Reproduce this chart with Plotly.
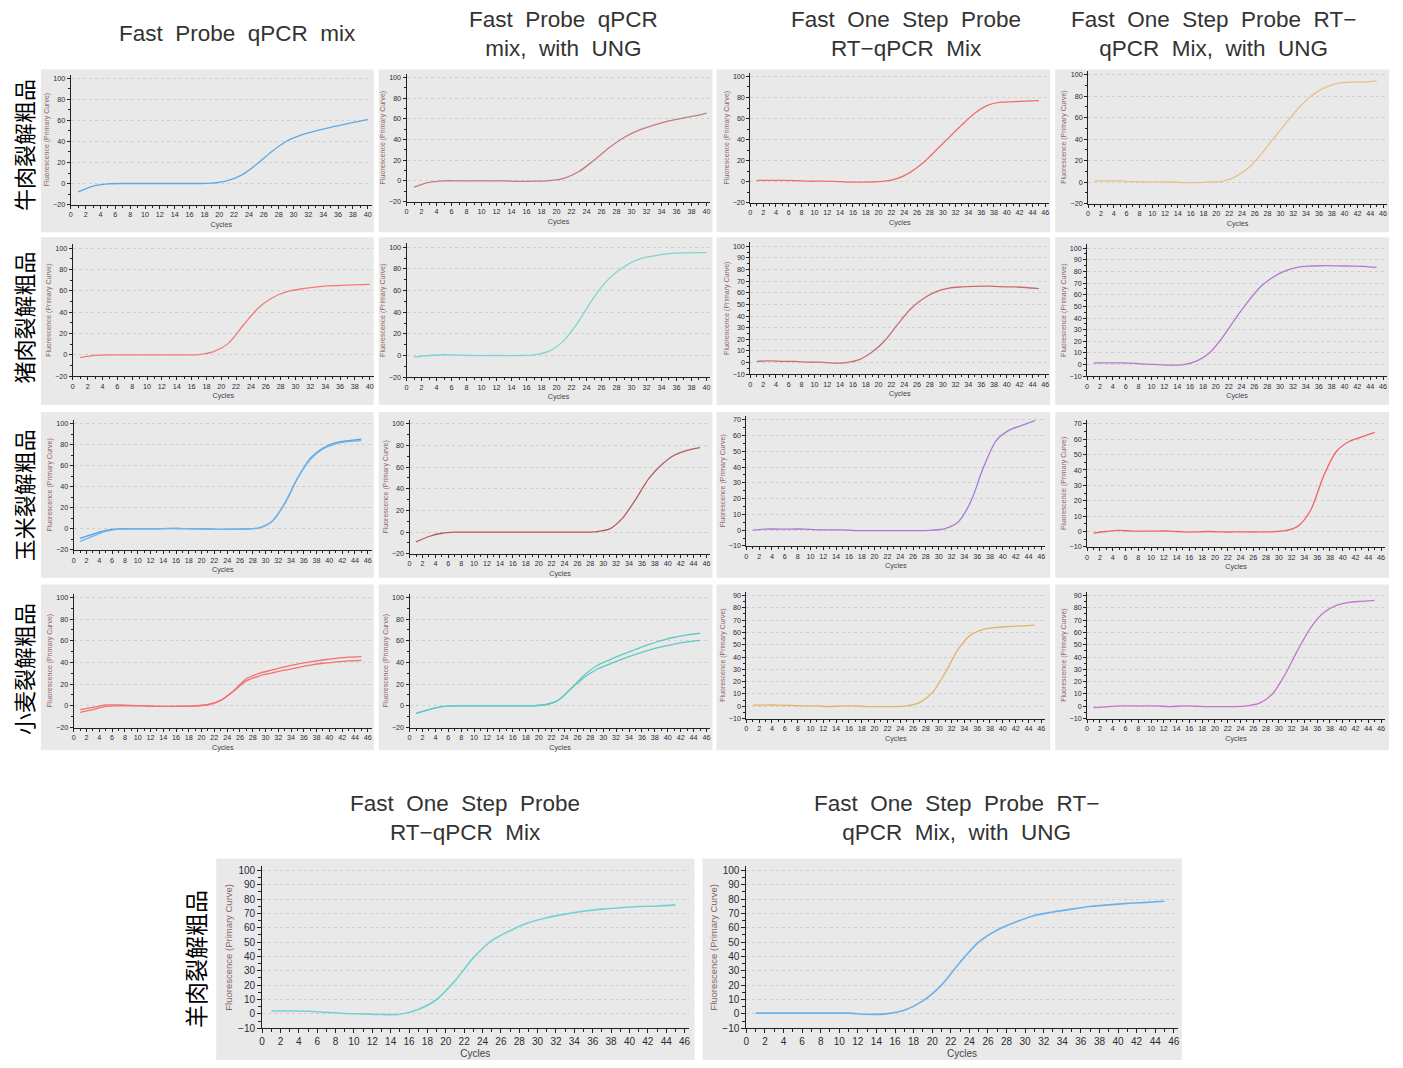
import plotly.graph_objects as go

# ---------------- data ----------------
cycles_40 = [1, 3, 5, 7, 9, 11, 13, 15, 17, 19, 21, 23, 25, 27, 29, 31, 33, 35, 37, 39, 40]
cycles_45 = [1, 3, 5, 7, 9, 11, 13, 15, 17, 19, 21, 23, 25, 27, 29, 31, 33, 35, 37, 39, 41, 43, 45]

col_titles = ["Fast  Probe  qPCR  mix",
              "Fast  Probe  qPCR<br>mix,  with  UNG",
              "Fast  One  Step  Probe<br>RT−qPCR  Mix",
              "Fast  One  Step  Probe  RT−<br>qPCR  Mix,  with  UNG"]
bottom_titles = ["Fast  One  Step  Probe<br>RT−qPCR  Mix",
                 "Fast  One  Step  Probe  RT−<br>qPCR  Mix,  with  UNG"]
row_labels = ["牛肉裂解粗品", "猪肉裂解粗品", "玉米裂解粗品", "小麦裂解粗品"]
bottom_row_label = "羊肉裂解粗品"

# beef
beef_probe = [-8, -2.5, -0.3, 0, 0, 0, 0, 0, 0, 0.3, 2.5, 8, 18, 30, 40, 46, 50, 53.5, 56.5, 59.5, 61]
beef_probe_ung = [-6, -1.5, 0, 0, 0, 0, 0, -0.5, -0.3, 0.3, 2.5, 9, 20, 32, 42, 49, 54, 58, 61, 63.5, 65.5]
beef_rt = [1, 1, 1, 0.8, 0.3, 0.3, 0.2, -0.5, -0.5, -0.3, 0.3, 3, 9, 18, 30, 42, 54, 65, 72.5, 75.5, 76, 76.5, 77]
beef_rt_ung = [1, 1, 1, 0.3, 0.2, 0.2, 0, -0.5, -0.5, 0, 0.5, 5, 13, 26, 41, 56, 70, 81, 88, 92, 93, 93, 94]
# pork
pork_probe = [-2.5, -0.5, 0, 0, 0, 0, 0, 0, 0.3, 3, 11, 28, 44, 54, 59.5, 62, 63.8, 64.8, 65.3, 65.8, 66]
pork_probe_ung = [-1.5, 0, 0.7, 0.3, 0, 0, 0, 0, 0.5, 4, 14, 32, 54, 71, 82, 89, 92, 94, 94.7, 95, 95]
pork_rt = [1, 1.5, 1, 1, 0.3, 0.3, -0.5, 0, 2.5, 9, 19, 33, 46, 55, 61, 64, 65, 65.5, 65.7, 65.2, 65, 64.5, 63.5]
pork_rt_ung = [1.5, 1.5, 1.5, 1.3, 0.3, 0, -0.5, 0, 3, 10, 23, 39, 54, 67, 75.5, 81, 84, 84.7, 85, 84.8, 84.6, 84.4, 83.5]
# corn
corn_probe_a = [-9, -5, -1.5, 0, 0, 0, 0, 0.5, 0.3, 0, 0, -0.5, -0.3, 0, 1, 7, 24, 48, 67, 77, 82, 84, 85.5]
corn_probe_b = [-12, -7, -2.5, -0.3, 0, 0, 0, 0.3, 0.3, 0, -0.3, -0.5, -0.5, 0, 1, 7, 24, 48, 66, 76, 81, 83, 84]
corn_probe_ung = [-9, -4, -1, 0, 0, 0, 0, 0, 0, 0, 0, 0, 0, 0, 0.5, 3, 13, 30, 49, 62, 71, 75.5, 78]
corn_rt = [0, 0.7, 0.7, 0.7, 0.7, 0.2, 0.2, 0.2, -0.3, -0.3, -0.3, -0.3, -0.3, -0.3, 0, 1, 5, 18, 40, 57, 63.5, 66.5, 69.5]
corn_rt_ung = [-1, 0, 0.7, 0.3, 0.3, 0.3, 0.3, -0.3, -0.3, 0, -0.3, -0.3, -0.3, -0.3, -0.2, 0.5, 3.5, 14, 36, 52, 58.5, 61.5, 64.5]
# wheat
wheat_probe_a = [-3.5, -1.5, 0.8, 0.8, 0.5, 0, -0.5, -0.5, -0.3, 0, 1, 5, 14, 25, 30, 33, 36, 38.5, 40.5, 42.3, 43.8, 45, 45.5]
wheat_probe_b = [-6, -3.5, -0.5, 0, 0, 0, -0.5, -0.5, -0.3, 0, 1, 5, 13.5, 23, 27.5, 30.3, 33, 35.3, 37.5, 39.3, 40.5, 41.5, 42]
wheat_probe_ung_a = [-7, -3.5, -0.8, 0, 0, 0, 0, 0, 0, 0, 1, 5, 16, 28, 37, 42.5, 47.5, 52, 56.5, 60.3, 63.3, 65.5, 67]
wheat_probe_ung_b = [-7, -3.5, -0.8, 0, 0, 0, 0, 0, 0, 0, 1, 5, 15.5, 26, 33.5, 38.5, 43.3, 47.5, 51.3, 54.5, 57, 59, 60.5]
wheat_rt = [1, 1, 1, 0.7, 0.3, 0.3, -0.3, 0.3, 0.3, -0.3, -0.3, -0.3, 0.3, 3, 11, 27, 46, 58, 62.5, 64, 64.8, 65.3, 66]
wheat_rt_ung = [-1, -0.5, 0.3, 0.3, 0.3, 0.3, -0.3, 0.3, 0, -0.3, -0.3, -0.3, 0.3, 2.5, 10, 26, 46, 64, 76, 82, 84.5, 85.3, 86]
# lamb
lamb_rt = [2, 2, 1.8, 1, 0.3, 0, -0.5, -0.3, 3, 10, 23, 39, 51, 58, 63.5, 67, 69.5, 71.5, 73, 74, 74.8, 75.2, 76]
lamb_rt_ung = [0.5, 0.5, 0.5, 0.5, 0.5, 0.5, -0.3, 0, 2.5, 9, 20, 36, 50, 58.5, 64, 68.5, 71, 73, 74.8, 76, 77, 77.7, 78.5]

# ---------------- layout helpers ----------------
W, H, OFF = 1387, 1052, 8


def fx(p):
    return (p - OFF) / W


def fy(p):
    return 1 - (p - OFF) / H


# panel: rect(x0,y0,x1,y1), axis px (x of 0, x of xmax), (y px of ymin, y px of ymax),
# xmax, ymin, ymax, ydtick, series list, big flag
panels = [
    ((38, 68, 372, 232), (68, 366), (204, 77), 40, -20, 100, 20, [(cycles_40, beef_probe, "#5aaae6")], False),
    ((377, 68, 712, 232), (405, 706), (201, 76), 40, -20, 100, 20, [(cycles_40, beef_probe_ung, "#c47c7c")], False),
    ((716, 68, 1051, 232), (750, 1046), (202, 75), 46, -20, 100, 20, [(cycles_45, beef_rt, "#f26d6d")], False),
    ((1056, 68, 1391, 232), (1089, 1385), (203, 73), 46, -20, 100, 20, [(cycles_45, beef_rt_ung, "#e8c088")], False),

    ((38, 237, 372, 406), (70, 368), (377, 248), 40, -20, 100, 20, [(cycles_40, pork_probe, "#f47a7a")], False),
    ((377, 237, 712, 406), (405, 706), (378, 247), 40, -20, 100, 20, [(cycles_40, pork_probe_ung, "#7ed6cf")], False),
    ((716, 237, 1051, 406), (750, 1046), (375, 246), 46, -10, 100, 10, [(cycles_45, pork_rt, "#c76e6e")], False),
    ((1056, 237, 1391, 406), (1088, 1385), (377, 248), 46, -10, 100, 10, [(cycles_45, pork_rt_ung, "#b477cc")], False),

    ((38, 413, 372, 580), (71, 366), (552, 425), 46, -20, 100, 20,
     [(cycles_45, corn_probe_a, "#4ea0e2"), (cycles_45, corn_probe_b, "#6fb4ea")], False),
    ((377, 413, 712, 580), (408, 706), (556, 425), 46, -20, 100, 20, [(cycles_45, corn_probe_ung, "#b85c5c")], False),
    ((716, 413, 1051, 580), (746, 1042), (548, 421), 46, -10, 70, 10, [(cycles_45, corn_rt, "#a47cd2")], False),
    ((1056, 413, 1391, 580), (1088, 1383), (549, 425), 46, -10, 70, 10, [(cycles_45, corn_rt_ung, "#f26464")], False),

    ((38, 587, 372, 754), (71, 366), (731, 600), 46, -20, 100, 20,
     [(cycles_45, wheat_probe_a, "#f27272"), (cycles_45, wheat_probe_b, "#f27272")], False),
    ((377, 587, 712, 754), (408, 706), (731, 600), 46, -20, 100, 20,
     [(cycles_45, wheat_probe_ung_a, "#62c9c2"), (cycles_45, wheat_probe_ung_b, "#62c9c2")], False),
    ((716, 587, 1051, 754), (746, 1042), (722, 598), 46, -10, 90, 10, [(cycles_45, wheat_rt, "#e3b463")], False),
    ((1056, 587, 1391, 754), (1088, 1383), (722, 598), 46, -10, 90, 10, [(cycles_45, wheat_rt_ung, "#c574cc")], False),

    ((214, 863, 694, 1068), (260, 684), (1034, 875), 46, -10, 100, 10, [(cycles_45, lamb_rt, "#74d2d2")], True),
    ((702, 863, 1183, 1068), (746, 1175), (1034, 875), 46, -10, 100, 10, [(cycles_45, lamb_rt_ung, "#6cb2ea")], True),
]

fig = go.Figure()
shapes = []
annotations = []
layout_axes = {}

tick_font_family = "Liberation Sans Narrow, Liberation Sans, Arial, sans-serif"

for i, (rect, (ax0, ax1), (yb, yt), xmax, ymin, ymax, ydt, series, big) in enumerate(panels, start=1):
    rx0, ry0, rx1, ry1 = rect
    shapes.append(dict(type="rect", xref="paper", yref="paper", layer="below",
                       x0=fx(rx0), x1=fx(rx1), y0=fy(ry1), y1=fy(ry0),
                       fillcolor="#e9e9e9", line=dict(width=0)))
    pad = 4
    xr_hi = xmax * (1 + pad / (ax1 - ax0))
    yr_hi = ymax + (ymax - ymin) * pad / (yb - yt)
    tfs = 10 if big else 7.2
    title_fs = 9.5 if big else 7
    xk = "xaxis" if i == 1 else f"xaxis{i}"
    yk = "yaxis" if i == 1 else f"yaxis{i}"
    xa = "x" if i == 1 else f"x{i}"
    ya = "y" if i == 1 else f"y{i}"
    layout_axes[xk] = dict(
        domain=[fx(ax0), fx(ax1 + pad)], anchor=ya, range=[0, xr_hi],
        tick0=0, dtick=2, tickangle=0, ticks="outside", ticklen=3 if not big else 4,
        tickcolor="#222", showline=True, linecolor="#222", linewidth=1,
        showgrid=False, zeroline=False,
        minor=dict(dtick=1, ticks="outside", ticklen=2 if not big else 3, tickcolor="#222", showgrid=False),
        tickfont=dict(family=tick_font_family, size=tfs, color="#2a2a3a"),
        title=dict(text="Cycles", font=dict(family=tick_font_family, size=tfs, color="#444"),
                   standoff=3 if not big else 3),
    )
    layout_axes[yk] = dict(
        domain=[fy(yb), fy(yt - pad)], anchor=xa, range=[ymin, yr_hi],
        tick0=0, dtick=ydt, ticks="outside", ticklen=3 if not big else 4,
        tickcolor="#222", showline=True, linecolor="#222", linewidth=1,
        showgrid=True, gridcolor="#cfcfcf", griddash="dot", gridwidth=1, zeroline=False,
        minor=dict(dtick=ydt / 2, ticks="outside", ticklen=2 if not big else 3, tickcolor="#222", showgrid=False),
        tickfont=dict(family=tick_font_family, size=tfs, color="#2a2a3a"),
        title=dict(text="Fluorescence (Primary Curve)",
                   font=dict(family=tick_font_family, size=title_fs, color="#8a6666"),
                   standoff=2 if not big else 3),
    )
    for xs, ys, col in series:
        fig.add_trace(go.Scatter(x=xs, y=ys, mode="lines", xaxis=xa, yaxis=ya,
                                 line=dict(color=col, width=1.3 if not big else 1.6, shape="spline",
                                           smoothing=0.8),
                                 showlegend=False, hoverinfo="skip"))

title_font = dict(family="Liberation Sans, Arial, sans-serif", size=22.5, color="#333333")
for cx, t in zip([235, 563, 906, 1215], col_titles):
    annotations.append(dict(text=t, x=fx(cx), y=fy(32), xref="paper", yref="paper",
                            showarrow=False, xanchor="center", yanchor="middle",
                            font=title_font, align="center"))
for cx, t in zip([464, 957], bottom_titles):
    annotations.append(dict(text=t, x=fx(cx), y=fy(822), xref="paper", yref="paper",
                            showarrow=False, xanchor="center", yanchor="middle",
                            font=title_font, align="center"))

label_font = dict(family="Noto Sans CJK SC", size=22, color="#000000")
for cy, t in zip([144, 318, 497, 672], row_labels):
    annotations.append(dict(text=t, x=fx(20), y=fy(cy), xref="paper", yref="paper",
                            showarrow=False, xanchor="center", yanchor="middle",
                            textangle=-90, font=label_font))
annotations.append(dict(text=bottom_row_label, x=fx(192), y=fy(964), xref="paper", yref="paper",
                        showarrow=False, xanchor="center", yanchor="middle",
                        textangle=-90, font=dict(family="Noto Sans CJK SC", size=23, color="#000000")))

fig.update_layout(
    width=W, height=H, margin=dict(l=0, r=0, t=0, b=0),
    paper_bgcolor="white", plot_bgcolor="white",
    shapes=shapes, annotations=annotations, showlegend=False,
    **layout_axes,
)

fig.write_html("out.html")
